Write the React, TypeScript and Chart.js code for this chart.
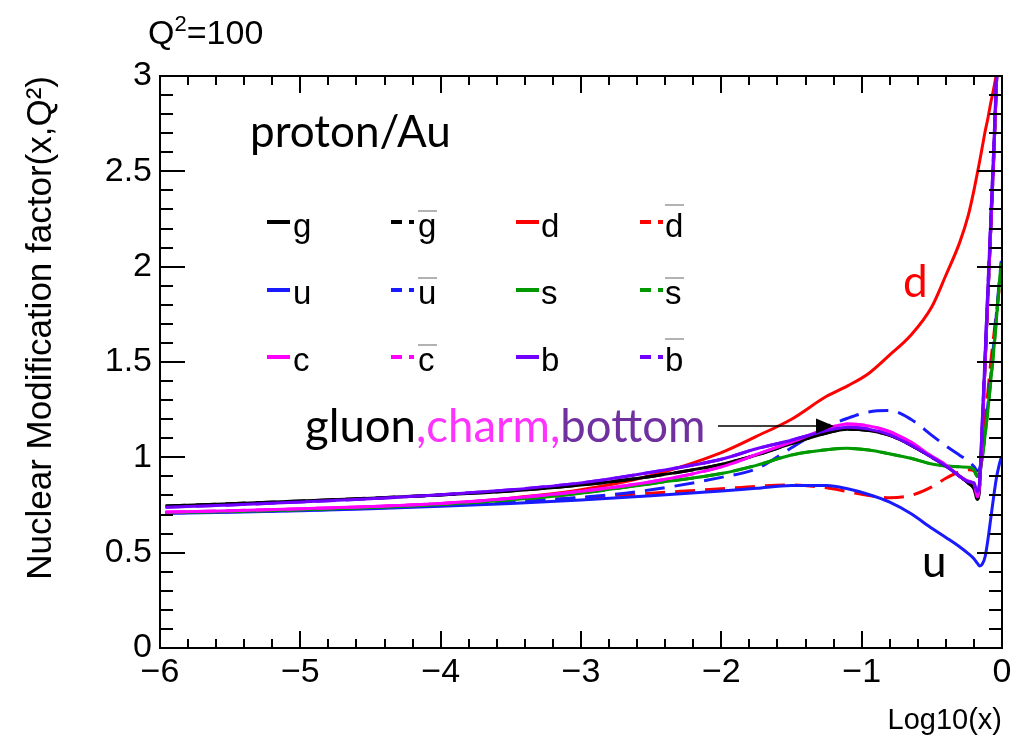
import React, { useEffect, useRef } from "react";
import { Chart, registerables } from "chart.js";

Chart.register(...registerables);

// ---------- data ----------
const LOG_X = [-5.96, -5.5, -5, -4.5, -4, -3.5, -3, -2.5, -2, -1.75, -1.5, -1.25, -1.1, -0.95, -0.8, -0.65, -0.5, -0.4, -0.3, -0.24, -0.2, -0.176, -0.16, -0.14, -0.12, -0.1, -0.08, -0.06, -0.04, -0.02, -0.005];

const G = [0.745, 0.757, 0.771, 0.786, 0.803, 0.824, 0.855, 0.9, 0.963, 1.012, 1.072, 1.128, 1.147, 1.14, 1.115, 1.064, 1.0, 0.955, 0.9, 0.865, 0.835, 0.78, 0.84, 1.15, 1.5, 1.85, 2.2, 2.55, 2.95, 3.3, 3.6];
const G_BAR = [0.745, 0.757, 0.771, 0.786, 0.803, 0.824, 0.855, 0.9, 0.963, 1.012, 1.072, 1.128, 1.147, 1.14, 1.115, 1.064, 1.0, 0.955, 0.9, 0.865, 0.835, 0.78, 0.84, 1.15, 1.5, 1.85, 2.2, 2.55, 2.95, 3.3, 3.6];
const C = [0.713, 0.72, 0.73, 0.742, 0.758, 0.785, 0.822, 0.872, 0.95, 1.015, 1.08, 1.15, 1.175, 1.165, 1.135, 1.08, 1.005, 0.96, 0.9, 0.875, 0.862, 0.793, 0.85, 1.15, 1.5, 1.85, 2.2, 2.55, 2.95, 3.3, 3.6];
const C_BAR = [0.713, 0.72, 0.73, 0.742, 0.758, 0.785, 0.822, 0.872, 0.95, 1.015, 1.08, 1.15, 1.175, 1.165, 1.135, 1.08, 1.005, 0.96, 0.9, 0.875, 0.862, 0.793, 0.85, 1.15, 1.5, 1.85, 2.2, 2.55, 2.95, 3.3, 3.6];
const B = [0.738, 0.75, 0.766, 0.783, 0.804, 0.83, 0.866, 0.922, 0.99, 1.045, 1.09, 1.14, 1.158, 1.148, 1.118, 1.065, 1.0, 0.955, 0.9, 0.872, 0.865, 0.82, 0.87, 1.2, 1.55, 1.9, 2.25, 2.6, 3.0, 3.35, 3.65];
const B_BAR = [0.738, 0.75, 0.766, 0.783, 0.804, 0.83, 0.866, 0.922, 0.99, 1.045, 1.09, 1.14, 1.158, 1.148, 1.118, 1.065, 1.0, 0.955, 0.9, 0.872, 0.865, 0.82, 0.87, 1.2, 1.55, 1.9, 2.25, 2.6, 3.0, 3.35, 3.65];
const S = [0.71, 0.716, 0.725, 0.737, 0.753, 0.777, 0.812, 0.862, 0.915, 0.958, 1.012, 1.04, 1.047, 1.038, 1.018, 0.995, 0.965, 0.955, 0.95, 0.948, 0.935, 0.9, 0.92, 1.0, 1.12, 1.25, 1.4, 1.55, 1.72, 1.9, 2.02];
const S_BAR = [0.71, 0.716, 0.725, 0.737, 0.753, 0.777, 0.812, 0.862, 0.915, 0.958, 1.012, 1.04, 1.047, 1.038, 1.018, 0.995, 0.965, 0.955, 0.95, 0.948, 0.935, 0.9, 0.92, 1.0, 1.12, 1.25, 1.4, 1.55, 1.72, 1.9, 2.02];
const D = [0.71, 0.716, 0.726, 0.74, 0.757, 0.786, 0.83, 0.905, 1.025, 1.11, 1.2, 1.32, 1.375, 1.44, 1.537, 1.64, 1.79, 1.955, 2.13, 2.27, 2.4, 2.49, 2.55, 2.63, 2.71, 2.78, 2.86, 2.93, 3.01, 3.09, 3.15];
const D_BAR = [0.71, 0.716, 0.724, 0.735, 0.749, 0.766, 0.788, 0.812, 0.835, 0.848, 0.855, 0.84, 0.82, 0.8, 0.788, 0.8, 0.845, 0.89, 0.925, 0.935, 0.93, 0.905, 0.93, 1.05, 1.2, 1.35, 1.5, 1.63, 1.76, 1.88, 1.96];
const U = [0.707, 0.712, 0.72, 0.73, 0.743, 0.758, 0.776, 0.798, 0.823, 0.838, 0.852, 0.852, 0.835, 0.805, 0.765, 0.705, 0.628, 0.58, 0.53, 0.495, 0.468, 0.445, 0.43, 0.44, 0.48, 0.57, 0.68, 0.79, 0.89, 0.96, 1.0];
const U_BAR = [0.708, 0.714, 0.722, 0.733, 0.748, 0.766, 0.79, 0.83, 0.895, 0.94, 1.05, 1.16, 1.205, 1.238, 1.245, 1.2, 1.115, 1.06, 1.01, 0.98, 0.952, 0.93, 0.94, 1.02, 1.14, 1.28, 1.43, 1.59, 1.75, 1.92, 2.03];

const X_MIN = -6;
const X_MAX = 0;
const Y_MIN = 0;
const Y_MAX = 3;

// ---------- styles ----------
const W = 1018;
const H = 746;
const FONT = "'Liberation Sans', Arial, Helvetica, sans-serif";
const NOTE_FONT = "Lato, 'Open Sans', sans-serif";
const RED = "#ff0000";
const BLUE = "#1a1aff";
const GREEN = "#009a00";
const MAGENTA = "#ff00ff";
const PURPLE = "#7000ff";
const BLACK = "#000000";

// first entry is drawn on top
const SERIES = [
  { name: "b", values: B, color: PURPLE, dash: false },
  { name: "c", values: C, color: MAGENTA, dash: false },
  { name: "g", values: G, color: BLACK, dash: false },
  { name: "b\u0304", values: B_BAR, color: PURPLE, dash: true },
  { name: "c\u0304", values: C_BAR, color: MAGENTA, dash: true },
  { name: "g\u0304", values: G_BAR, color: BLACK, dash: true },
  { name: "s", values: S, color: GREEN, dash: false },
  { name: "s\u0304", values: S_BAR, color: GREEN, dash: true },
  { name: "u\u0304", values: U_BAR, color: BLUE, dash: true },
  { name: "u", values: U, color: BLUE, dash: false },
  { name: "d\u0304", values: D_BAR, color: RED, dash: true },
  { name: "d", values: D, color: RED, dash: false },
];

const LEGEND = [
  [
    { t: "g", c: BLACK, bar: false, tall: false },
    { t: "g", c: BLACK, bar: true, tall: false },
    { t: "d", c: RED, bar: false, tall: true },
    { t: "d", c: RED, bar: true, tall: true },
  ],
  [
    { t: "u", c: BLUE, bar: false, tall: false },
    { t: "u", c: BLUE, bar: true, tall: false },
    { t: "s", c: GREEN, bar: false, tall: false },
    { t: "s", c: GREEN, bar: true, tall: false },
  ],
  [
    { t: "c", c: MAGENTA, bar: false, tall: false },
    { t: "c", c: MAGENTA, bar: true, tall: false },
    { t: "b", c: PURPLE, bar: false, tall: true },
    { t: "b", c: PURPLE, bar: true, tall: true },
  ],
];
const LEG_COL_X = [267, 391, 516, 640];
const LEG_TEXT_X = [293, 418, 541, 665];
const LEG_ROW_LINE_Y = [222, 290, 357];
const LEG_ROW_BASE_Y = [237, 304, 371];

const framePlugin = {
  id: "rootFrame",
  afterDatasetsDraw(chart: any) {
    const { ctx, chartArea, scales } = chart;
    const { left, right, top, bottom } = chartArea;
    const xs = scales.x;
    const ys = scales.y;
    ctx.save();
    ctx.strokeStyle = "#000";
    ctx.lineWidth = 2;
    ctx.beginPath();
    for (let i = 0; i <= 30; i++) {
      const px = Math.round(xs.getPixelForValue(X_MIN + i * 0.2));
      const len = i % 5 === 0 ? 17 : 9;
      ctx.moveTo(px, bottom);
      ctx.lineTo(px, bottom - len);
      ctx.moveTo(px, top);
      ctx.lineTo(px, top + len);
    }
    for (let i = 0; i <= 30; i++) {
      const py = Math.round(ys.getPixelForValue(Y_MIN + i * 0.1));
      const len = i % 5 === 0 ? 25 : 13;
      ctx.moveTo(left, py);
      ctx.lineTo(left + len, py);
      ctx.moveTo(right, py);
      ctx.lineTo(right - len, py);
    }
    ctx.stroke();
    ctx.strokeRect(left, top, right - left, bottom - top);
    ctx.restore();
  },
};

function ChartCanvas() {
  const ref = useRef<HTMLCanvasElement | null>(null);
  useEffect(() => {
    if (!ref.current) return;
    const datasets = SERIES.map((s) => ({
      label: s.name,
      data: LOG_X.map((x, i) => ({ x, y: s.values[i] })),
      borderColor: s.color,
      backgroundColor: s.color,
      borderWidth: 3,
      borderDash: s.dash ? [20, 10] : [],
      pointRadius: 0,
      fill: false,
      cubicInterpolationMode: "monotone" as const,
    }));
    const chart = new Chart(ref.current, {
      type: "line",
      data: { datasets },
      options: {
        animation: false,
        responsive: false,
        devicePixelRatio: 1,
        events: [],
        layout: { padding: { left: 0, right: 16, top: 76, bottom: 0 } },
        plugins: { legend: { display: false }, tooltip: { enabled: false } },
        scales: {
          x: {
            type: "linear",
            min: X_MIN,
            max: X_MAX,
            grid: { display: false, drawTicks: false },
            border: { display: false },
            ticks: {
              stepSize: 1,
              autoSkip: false,
              maxRotation: 0,
              padding: 4,
              color: "#000",
              font: { family: FONT, size: 34 },
              callback: (v: any) => (Number(v) < 0 ? "\u2212" + Math.abs(Number(v)) : "0"),
            },
            title: {
              display: true,
              text: "Log10(x)",
              align: "end",
              color: "#000",
              font: { family: FONT, size: 29 },
              padding: { top: 0, bottom: 8 },
            },
            afterFit: (s: any) => {
              s.height = 98;
            },
          },
          y: {
            type: "linear",
            min: Y_MIN,
            max: Y_MAX,
            grid: { display: false, drawTicks: false },
            border: { display: false },
            ticks: {
              stepSize: 0.5,
              autoSkip: false,
              padding: 8,
              color: "#000",
              font: { family: FONT, size: 34 },
              callback: (v: any) => String(Number(v)),
            },
            title: {
              display: true,
              text: "Nuclear Modification factor(x,Q\u00B2)",
              align: "end",
              color: "#000",
              font: { family: FONT, size: 35 },
              padding: { top: 20, bottom: 0 },
            },
            afterFit: (s: any) => {
              s.width = 160;
            },
          },
        },
      },
      plugins: [framePlugin],
    });
    return () => chart.destroy();
  }, []);
  return <canvas ref={ref} width={W} height={H} style={{ display: "block" }} />;
}

function Overlay() {
  const items: any[] = [];
  LEGEND.forEach((row, r) => {
    row.forEach((e, c) => {
      const x0 = LEG_COL_X[c];
      const ly = LEG_ROW_LINE_Y[r];
      if (!e.bar) {
        items.push(<rect key={`s${r}${c}`} x={x0} y={ly - 2} width={23} height={4} fill={e.c} />);
      } else {
        items.push(<rect key={`a${r}${c}`} x={x0} y={ly - 2} width={11} height={4} fill={e.c} />);
        items.push(<rect key={`b${r}${c}`} x={x0 + 18} y={ly - 2} width={5} height={4} fill={e.c} />);
      }
      const tx = LEG_TEXT_X[c];
      const by = LEG_ROW_BASE_Y[r];
      items.push(
        <text key={`t${r}${c}`} x={tx} y={by} fontFamily={FONT} fontSize={33} fill="#000">
          {e.t}
        </text>
      );
      if (e.bar) {
        const oy = by - (e.tall ? 32 : 26);
        items.push(<line key={`o${r}${c}`} x1={tx} x2={tx + 19} y1={oy} y2={oy} stroke="#999" strokeWidth={1.5} />);
      }
    });
  });
  return (
    <svg width={W} height={H} style={{ position: "absolute", left: 0, top: 0, pointerEvents: "none" }}>
      <text x={148} y={44} fontFamily={FONT} fontSize={34} fill="#000">
        Q<tspan dy={-13} fontSize={22}>2</tspan>
        <tspan dy={13}>=100</tspan>
      </text>
      <text x={250} y={147} fontFamily={NOTE_FONT} fontSize={44} fill="#000">
        proton/Au
      </text>
      {items}
      <text x={305} y={442} fontFamily={NOTE_FONT} fontSize={45.5}>
        <tspan fill="#000">gluon</tspan>
        <tspan fill="#ff33ff">,charm,</tspan>
        <tspan fill="#7030a0">bottom</tspan>
      </text>
      <line x1={718} y1={426} x2={818} y2={426} stroke="#000" strokeWidth={1.6} />
      <polygon points="816,418.5 834,426 816,433.5" fill="#000" />
      <text x={903} y={297} fontFamily={NOTE_FONT} fontSize={44} fill={RED}>
        d
      </text>
      <text x={922} y={577} fontFamily={NOTE_FONT} fontSize={44} fill="#000">
        u
      </text>
    </svg>
  );
}

export default function App() {
  return (
    <div style={{ position: "absolute", left: 0, top: 0, width: W, height: H, background: "#fff", overflow: "hidden" }}>
      <ChartCanvas />
      <Overlay />
    </div>
  );
}
